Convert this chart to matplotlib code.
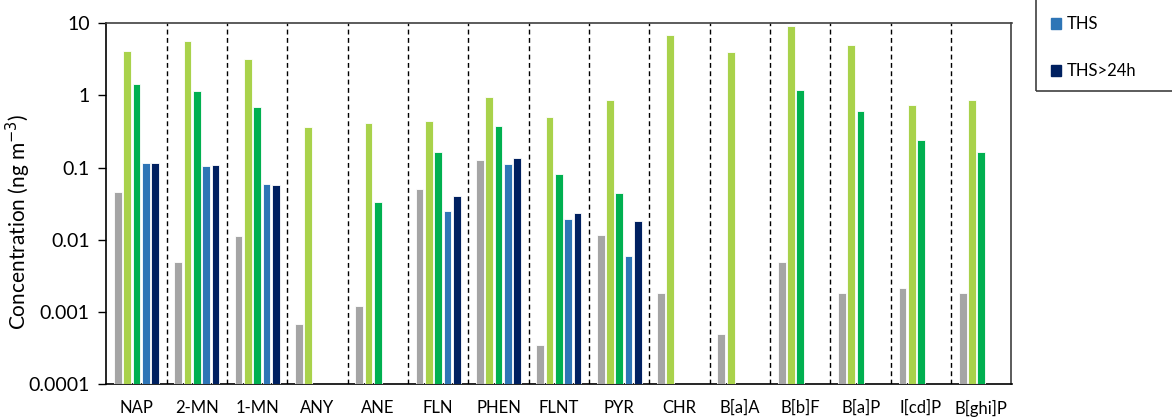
import matplotlib
matplotlib.use("Agg")
import matplotlib.pyplot as plt
from matplotlib.patches import Rectangle, Patch
import numpy as np

categories = ["NAP", "2-MN", "1-MN", "ANY", "ANE", "FLN", "PHEN", "FLNT", "PYR",
              "CHR", "B[a]A", "B[b]F", "B[a]P", "I[cd]P", "B[ghi]P"]

nan = np.nan
s_gray = [0.0454, 0.00488, 0.0112, 0.00069, 0.00122, 0.0510, 0.126, 0.000347, 0.0115,
          0.00182, 0.000498, 0.00493, 0.00182, 0.00215, 0.00182]
s_lgreen = [4.06, 5.63, 3.18, 0.367, 0.418, 0.435, 0.946, 0.500, 0.869,
            6.75, 3.97, 9.09, 4.96, 0.733, 0.869]
s_green = [1.42, 1.13, 0.689, nan, 0.0337, 0.162, 0.376, 0.0814, 0.0444,
           nan, nan, 1.20, 0.612, 0.240, 0.162]
s_ths = [0.114, 0.105, 0.0592, nan, nan, 0.0248, 0.111, 0.0192, 0.0059,
         nan, nan, nan, nan, nan, nan]
s_ths24 = [0.114, 0.108, 0.0568, nan, nan, 0.0400, 0.134, 0.0235, 0.0180,
           nan, nan, nan, nan, nan, nan]

series = [s_gray, s_lgreen, s_green, s_ths, s_ths24]
colors = ["#A5A5A5", "#A9D24B", "#00B050", "#2E75B6", "#002060"]
labels = [None, None, None, "THS", "THS>24h"]

yticks = [0.0001, 0.001, 0.01, 0.1, 1, 10]
ytick_labels = ["0.0001", "0.001", "0.01", "0.1", "1", "10"]

plt.rcParams['font.family'] = ['Lato', 'DejaVu Sans']

fig = plt.figure(figsize=(11.72, 4.17), dpi=100)
ax = fig.add_axes([106.3/1172, 1-384.3/417, (1011.5-106.3)/1172, (384.3-23)/417])

base = 1e-4
x = np.arange(len(categories))
pitch = 0.154
width = 0.128
for i, (vals, c) in enumerate(zip(series, colors)):
    v = np.array(vals, dtype=float)
    mask = ~np.isnan(v)
    ax.bar(x[mask] + (i - 2) * pitch, v[mask] - base, width=width, bottom=base,
           color=c, edgecolor='white', linewidth=0.6, zorder=3)

ax.set_yscale('log')
ax.set_ylim(1e-4, 10)
ax.set_xlim(-0.5, len(categories) - 0.5)
ax.set_yticks(yticks)
ax.set_yticklabels(ytick_labels)
ax.minorticks_off()
ax.set_xticks(x)
ax.set_xticklabels(categories)
ax.tick_params(axis='x', length=0, pad=11, labelsize=12)
ax.tick_params(axis='y', length=6, width=1, direction='out', pad=6, labelsize=14)

for k in range(1, len(categories)):
    ax.axvline(k - 0.5, color='black', linestyle=(0, (3.5, 2.5)), linewidth=1, zorder=2)

for s in ['left', 'bottom']:
    ax.spines[s].set_color('black')
    ax.spines[s].set_linewidth(1.2)
for s in ['top', 'right']:
    ax.spines[s].set_color('#404040')
    ax.spines[s].set_linewidth(1.2)

ax.set_ylabel('Concentration (ng m$^{-3}$)', fontsize=15)
ax.yaxis.set_label_coords((33 - 106.3) / 905.2, (384.3 - 221.5) / 361.3)

# legend (partially cut off in the reference)
handles = [Patch(color=colors[3], label=labels[3]), Patch(color=colors[4], label=labels[4])]
leg = fig.legend(handles=handles, loc='upper left',
                 bbox_to_anchor=(1043/1172, 1 - 8/417), frameon=False,
                 fontsize=12, handlelength=0.6, handleheight=0.6,
                 handletextpad=0.35, labelspacing=1.85, borderpad=0)
fig.patches.append(Rectangle((1036/1172, 1 - 90.7/417), 0.2, 0.5,
                             transform=fig.transFigure, fill=False,
                             edgecolor='#404040', linewidth=1.2))

fig.savefig('out.png', dpi=100)
